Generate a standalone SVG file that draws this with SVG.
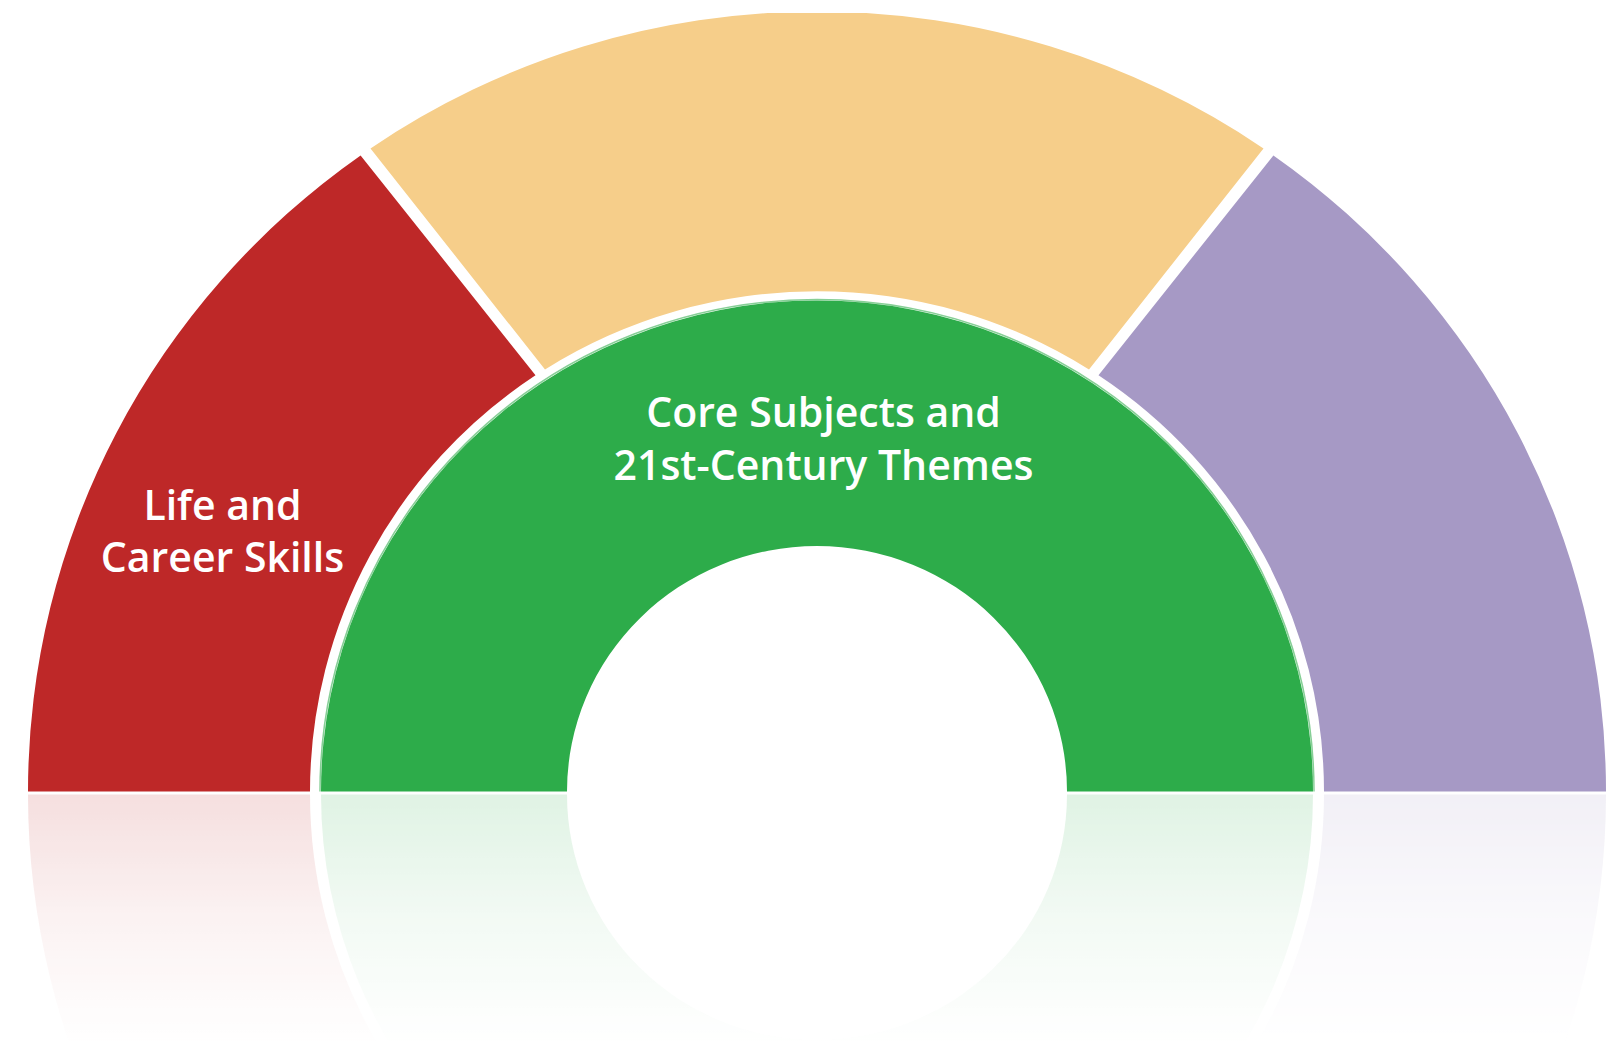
<svg xmlns="http://www.w3.org/2000/svg" width="1620" height="1050" viewBox="0 0 1620 1050">
  <style>
    .lbl { font-family: "Open Sans", "Noto Sans", "Liberation Sans", sans-serif; font-size: 41px; font-weight: 600; fill: #ffffff; text-anchor: middle; }
    .red { fill: #be2828; }
    .yellow { fill: #f6ce8a; }
    .purple { fill: #a699c5; }
    .green { fill: #2dac4a; }
  </style>
  <defs>
    <clipPath id="topClip">
      <rect x="0" y="13" width="1620" height="1037"/>
    </clipPath>
    <linearGradient id="fade" gradientUnits="userSpaceOnUse" x1="0" y1="794" x2="0" y2="1045">
      <stop offset="0" stop-color="#fff" stop-opacity="0.15"/>
      <stop offset="0.5" stop-color="#fff" stop-opacity="0.06"/>
      <stop offset="1" stop-color="#fff" stop-opacity="0"/>
    </linearGradient>
    <mask id="reflMask" maskUnits="userSpaceOnUse" x="0" y="0" width="1620" height="1050">
      <rect x="0" y="794" width="1620" height="256" fill="url(#fade)"/>
    </mask>
    <path id="redShape" d="M 28,791.5 A 789 780 0 0 1 360.6,155.4 L 535.5,375.2 A 507 501 0 0 0 310,791.5 Z"/>
    <path id="purpleShape" d="M 1273.4,155.4 A 789 780 0 0 1 1606,791.5 L 1324,791.5 A 507 501 0 0 0 1098.5,375.2 Z"/>
    <path id="greenShape" d="M 321,791.5 A 496 491 0 0 1 1313,791.5 L 1067,791.5 A 250 245.5 0 0 0 567,791.5 Z"/>
  </defs>
  <rect x="0" y="0" width="1620" height="1050" fill="#ffffff"/>

  <g id="reflection" mask="url(#reflMask)">
    <g transform="matrix(1 0 0 -1 0 1586)">
      <use href="#redShape" class="red"/>
      <use href="#purpleShape" class="purple"/>
      <use href="#greenShape" class="green"/>
    </g>
  </g>

  <g id="node-life-career">
    <use href="#redShape" class="red"/>
    <text class="lbl" x="222.5" y="520">Life and</text>
    <text class="lbl" x="222.5" y="572">Career Skills</text>
  </g>

  <g id="node-top" clip-path="url(#topClip)">
    <path class="yellow" d="M 370.5,148.4 A 789 780 0 0 1 1263.5,148.4 L 1089,369.5 A 507 501 0 0 0 545,369.5 Z"/>
  </g>

  <g id="node-right">
    <use href="#purpleShape" class="purple"/>
  </g>

  <g id="node-core">
    <path d="M 320,791.5 A 497 492 0 0 1 1314,791.5" fill="none" stroke="#86cf96" stroke-width="1.5"/>
    <use href="#greenShape" class="green"/>
    <text class="lbl" x="823.5" y="427">Core Subjects and</text>
    <text class="lbl" x="823.5" y="480">21st-Century Themes</text>
  </g>

  <g id="connectors"/>
</svg>
